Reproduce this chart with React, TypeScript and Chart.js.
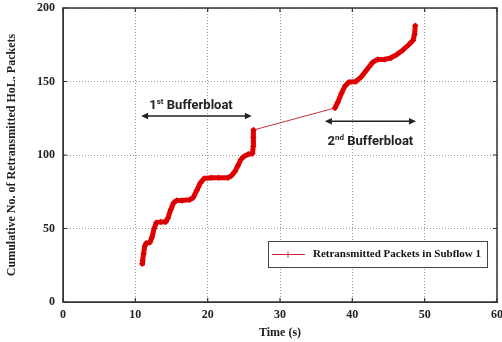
import React, { useEffect, useRef } from "react";
import { Chart, registerables } from "chart.js";

Chart.register(...registerables);

const timeS = [
  10.95, 11.0, 11.15, 11.3, 11.5, 12.0, 12.3, 12.6, 12.9, 13.5, 14.2, 14.5, 14.9, 15.3, 15.7, 16.5, 17.5,
  18.0, 18.5, 19.0, 19.5, 20.5, 21.5, 22.8, 23.3, 23.8, 24.2, 24.6, 25.0, 25.6, 26.2, 26.3, 26.3, 26.35,
  37.6, 38.0, 38.5, 39.0, 39.5, 40.5, 41.2, 42.0, 42.8, 43.5, 44.5, 45.3, 46.2, 47.0, 47.8, 48.4, 48.6, 48.7,
];
const packets = [
  26, 28, 33, 38, 40, 40.5, 44, 50, 54, 54.5, 54.5, 57, 63, 67.5, 69, 69, 69.5,
  71, 76, 81, 84, 84.5, 84.5, 84.5, 86, 89, 93, 97, 99, 100.5, 101, 106, 112, 117,
  132, 136, 142, 147, 149.5, 150, 153, 158, 163, 165, 165, 166, 168.5, 171.5, 175, 178, 182, 188,
];
const xTicks = [0, 10, 20, 30, 40, 50, 60];
const yTicks = [0, 50, 100, 150, 200];
const seriesLabel = "Retransmitted Packets in Subflow 1";
const xTitle = "Time (s)";
const yTitle = "Cumulative No. of Retransmitted HoL. Packets";
const notes = [
  { ord: "1", sup: "st", text: " Bufferbloat", from: 10.8, to: 26.1, arrowY: 126.5, tx: 17.7, ty: 133.3 },
  { ord: "2", sup: "nd", text: " Bufferbloat", from: 36.2, to: 48.8, arrowY: 123, tx: 42.5, ty: 109 },
];

const serif = "'Liberation Serif', 'Times New Roman', serif";
const sans = "Roboto, 'DejaVu Sans', sans-serif";

function drawArrow(ctx: CanvasRenderingContext2D, x1: number, x2: number, y: number) {
  ctx.save();
  ctx.strokeStyle = "#222";
  ctx.fillStyle = "#222";
  ctx.lineWidth = 1.5;
  ctx.beginPath();
  ctx.moveTo(x1 + 4, y);
  ctx.lineTo(x2 - 4, y);
  ctx.stroke();
  const h = 7, w = 3.2;
  ctx.beginPath();
  ctx.moveTo(x1, y);
  ctx.lineTo(x1 + h, y - w);
  ctx.lineTo(x1 + h, y + w);
  ctx.closePath();
  ctx.fill();
  ctx.beginPath();
  ctx.moveTo(x2, y);
  ctx.lineTo(x2 - h, y - w);
  ctx.lineTo(x2 - h, y + w);
  ctx.closePath();
  ctx.fill();
  ctx.restore();
}

const decor = {
  id: "decor",
  beforeDraw(chart: any) {
    const { ctx } = chart;
    ctx.save();
    ctx.fillStyle = "#fff";
    ctx.fillRect(0, 0, chart.width, chart.height);
    ctx.restore();
  },
  afterDatasetsDraw(chart: any) {
    const { ctx, chartArea: a, scales } = chart;
    const xs = scales.x, ys = scales.y;
    ctx.save();
    // frame
    ctx.strokeStyle = "#333";
    ctx.lineWidth = 1.5;
    ctx.strokeRect(a.left, a.top, a.right - a.left, a.bottom - a.top);
    // inward ticks
    ctx.lineWidth = 1.2;
    ctx.beginPath();
    xTicks.forEach((v) => {
      const px = xs.getPixelForValue(v);
      ctx.moveTo(px, a.bottom);
      ctx.lineTo(px, a.bottom - 4);
      ctx.moveTo(px, a.top);
      ctx.lineTo(px, a.top + 4);
    });
    yTicks.forEach((v) => {
      const py = ys.getPixelForValue(v);
      ctx.moveTo(a.left, py);
      ctx.lineTo(a.left + 4, py);
      ctx.moveTo(a.right, py);
      ctx.lineTo(a.right - 4, py);
    });
    ctx.stroke();

    // annotations
    notes.forEach((n) => {
      drawArrow(ctx, xs.getPixelForValue(n.from), xs.getPixelForValue(n.to), ys.getPixelForValue(n.arrowY));
      const big = `bold 13px ${sans}`;
      const small = `bold 8px ${sans}`;
      ctx.font = big;
      const w1 = ctx.measureText(n.ord).width;
      const w3 = ctx.measureText(n.text).width;
      ctx.font = small;
      const w2 = ctx.measureText(n.sup).width;
      const total = w1 + w2 + w3;
      let x = xs.getPixelForValue(n.tx) - total / 2;
      const y = ys.getPixelForValue(n.ty);
      ctx.fillStyle = "#222";
      ctx.textBaseline = "middle";
      ctx.textAlign = "left";
      ctx.font = big;
      ctx.fillText(n.ord, x, y);
      x += w1;
      ctx.font = small;
      ctx.fillText(n.sup, x, y - 4);
      x += w2;
      ctx.font = big;
      ctx.fillText(n.text, x, y);
    });

    // legend box
    const bx = 268, by = 241, bw = 219, bh = 26;
    ctx.fillStyle = "#fff";
    ctx.fillRect(bx, by, bw, bh);
    ctx.strokeStyle = "#444";
    ctx.lineWidth = 1;
    ctx.strokeRect(bx + 0.5, by + 0.5, bw, bh);
    const ly = by + bh / 2 + 0.5;
    ctx.strokeStyle = "rgb(210,40,60)";
    ctx.lineWidth = 1;
    ctx.beginPath();
    ctx.moveTo(bx + 4, ly);
    ctx.lineTo(bx + 37, ly);
    ctx.moveTo(bx + 20, ly - 3);
    ctx.lineTo(bx + 20, ly + 3);
    ctx.stroke();
    ctx.fillStyle = "#111";
    ctx.font = `bold 11px ${serif}`;
    ctx.textBaseline = "middle";
    ctx.fillText(seriesLabel, bx + 45, ly);
    ctx.restore();
  },
};

export default function App() {
  const ref = useRef<HTMLCanvasElement>(null);
  useEffect(() => {
    const data = timeS.map((t, i) => ({ x: t, y: packets[i] }));
    const chart = new Chart(ref.current!, {
      type: "line",
      data: {
        datasets: [
          {
            label: seriesLabel,
            data,
            borderColor: "rgb(232,0,0)",
            backgroundColor: "rgb(215,0,0)",
            borderWidth: 5,
            borderJoinStyle: "round",
            borderCapStyle: "round",
            pointStyle: "cross",
            pointRadius: 3,
            pointBorderWidth: 1,
            pointBorderColor: "rgb(205,0,0)",
            tension: 0,
            segment: {
              borderWidth: (c: any) => (c.p1.parsed.x - c.p0.parsed.x > 5 ? 1 : 5),
              borderColor: (c: any) => (c.p1.parsed.x - c.p0.parsed.x > 5 ? "rgb(200,50,60)" : "rgb(232,0,0)"),
            },
          } as any,
        ],
      },
      plugins: [decor],
      options: {
        animation: false,
        responsive: false,
        layout: { padding: { top: 8, right: 5, left: 0, bottom: 0 } },
        plugins: { legend: { display: false }, tooltip: { enabled: false } },
        scales: {
          x: {
            type: "linear",
            min: 0,
            max: 60,
            afterFit: (s: any) => {
              s.height = 40;
              s.paddingLeft = 0;
              s.paddingRight = 0;
            },
            afterBuildTicks: (s: any) => {
              s.ticks = xTicks.map((v) => ({ value: v }));
            },
            ticks: { color: "#222", font: { family: serif, size: 12, weight: "bold" }, padding: 6, autoSkip: false, maxRotation: 0 },
            grid: { color: "#999", lineWidth: 1, drawTicks: false },
            border: { dash: [1, 2], color: "#333" },
            title: { display: true, text: xTitle, color: "#222", font: { family: serif, size: 12, weight: "bold" }, padding: { top: 0, bottom: 2 } },
          },
          y: {
            type: "linear",
            min: 0,
            max: 200,
            afterFit: (s: any) => {
              s.width = 63;
              s.paddingTop = 0;
              s.paddingBottom = 0;
            },
            afterBuildTicks: (s: any) => {
              s.ticks = yTicks.map((v) => ({ value: v }));
            },
            ticks: { color: "#222", font: { family: serif, size: 12, weight: "bold" }, padding: 8 },
            grid: { color: "#999", lineWidth: 1, drawTicks: false },
            border: { dash: [1, 2], color: "#333" },
            title: { display: true, text: yTitle, color: "#222", font: { family: serif, size: 12, weight: "bold" }, padding: { top: 5, bottom: 0 } },
          },
        },
      } as any,
    });
    return () => chart.destroy();
  }, []);
  return (
    <div style={{ position: "absolute", left: 0, top: 0, width: 502, height: 342, background: "#fff" }}>
      <canvas ref={ref} width={502} height={342} style={{ display: "block", width: 502, height: 342 }} />
    </div>
  );
}
